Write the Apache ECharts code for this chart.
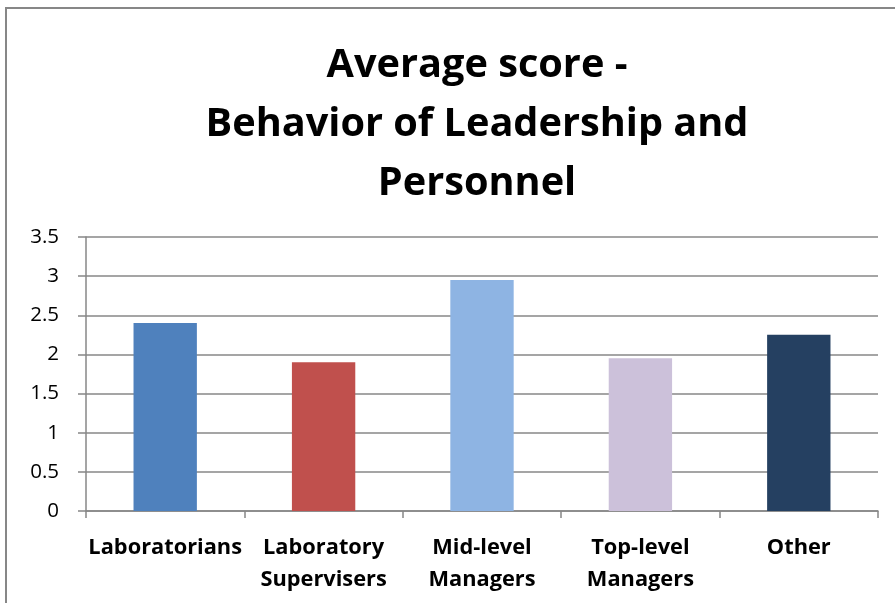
<!DOCTYPE html>
<html>
<head>
<meta charset="utf-8">
<script src="https://cdn.jsdelivr.net/npm/echarts@6/dist/echarts.min.js"></script>
<style>
html,body{margin:0;padding:0;background:#fff;}
#c{width:895px;height:603px;}
</style>
</head>
<body>
<div id="c"></div>
<script>
const categories = ['Laboratorians', 'Laboratory\nSupervisers', 'Mid-level\nManagers', 'Top-level\nManagers', 'Other'];
const values = [2.40, 1.90, 2.95, 1.95, 2.25];
const barColors = ['#4F81BD', '#C0504D', '#8EB4E3', '#CCC1DA', '#254061'];
const titleText = 'Average score -\nBehavior of Leadership and\nPersonnel';

const chart = echarts.init(document.getElementById('c'), null, {renderer: 'canvas'});
chart.setOption({
  animation: false,
  backgroundColor: '#fff',
  graphic: [
    {type: 'rect', shape: {x: 6, y: 8, width: 900, height: 610}, style: {fill: 'none', stroke: '#878787', lineWidth: 2}, z: -1},
    {type: 'text', x: 477, y: 125, style: {text: titleText, font: 'bold 39.7px "Open Sans"', fill: '#000', textAlign: 'center', textVerticalAlign: 'middle', lineHeight: 59}}
  ],
  grid: {left: 86, right: 17, top: 237, bottom: 92, containLabel: false},
  xAxis: {
    type: 'category',
    data: categories,
    axisLine: {lineStyle: {color: '#878787', width: 1.5}},
    axisTick: {show: true, length: 7, lineStyle: {color: '#878787', width: 1.5}},
    axisLabel: {color: '#000', fontFamily: 'Open Sans', fontWeight: 'bold', fontSize: 21.8, lineHeight: 32, margin: 21, interval: 0}
  },
  yAxis: {
    type: 'value',
    min: 0, max: 3.5, interval: 0.5,
    axisLine: {show: true, lineStyle: {color: '#878787', width: 1.5}},
    axisTick: {show: true, length: 8, lineStyle: {color: '#878787', width: 1.5}},
    axisLabel: {color: '#000', fontFamily: 'Open Sans', fontSize: 20.5, margin: 27},
    splitLine: {lineStyle: {color: '#878787', width: 1.5}}
  },
  series: [{
    type: 'bar',
    data: values.map((v, i) => ({value: v, itemStyle: {color: barColors[i]}})),
    barWidth: '40%'
  }]
});
</script>
</body>
</html>
